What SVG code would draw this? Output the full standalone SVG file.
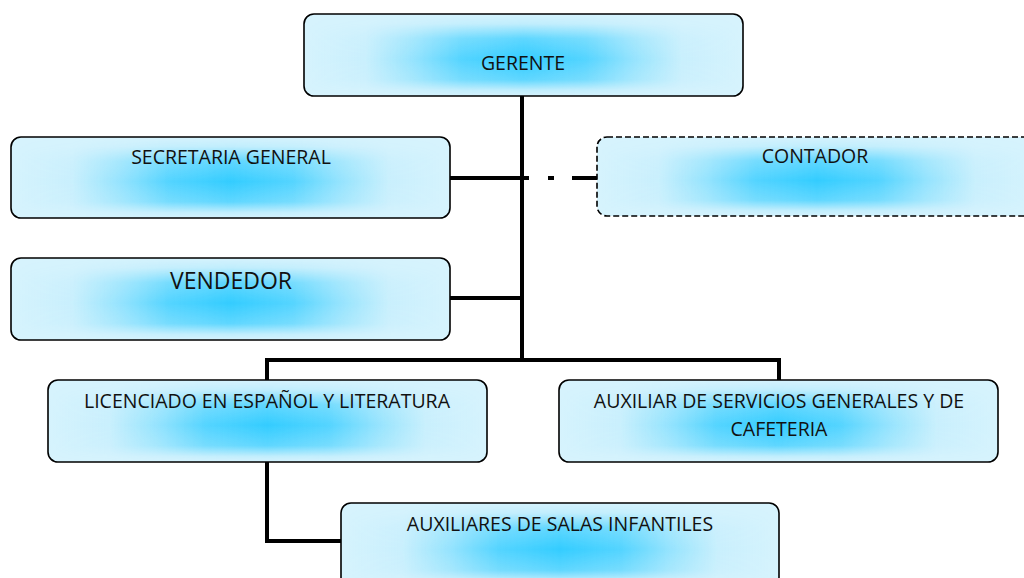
<svg xmlns="http://www.w3.org/2000/svg" width="1024" height="578" viewBox="0 0 1024 578">
<defs>
<linearGradient id="hg" x1="0" y1="0" x2="1" y2="0">
<stop offset="0" stop-color="#33CCFF" stop-opacity="0"/>
<stop offset="0.14" stop-color="#33CCFF" stop-opacity="0.08"/>
<stop offset="0.25" stop-color="#33CCFF" stop-opacity="0.4"/>
<stop offset="0.36" stop-color="#33CCFF" stop-opacity="0.8"/>
<stop offset="0.5" stop-color="#33CCFF" stop-opacity="1"/>
<stop offset="0.64" stop-color="#33CCFF" stop-opacity="0.8"/>
<stop offset="0.75" stop-color="#33CCFF" stop-opacity="0.4"/>
<stop offset="0.86" stop-color="#33CCFF" stop-opacity="0.08"/>
<stop offset="1" stop-color="#33CCFF" stop-opacity="0"/>
</linearGradient>
<linearGradient id="vg" x1="0" y1="0" x2="0" y2="1">
<stop offset="0" stop-color="#000"/>
<stop offset="0.12" stop-color="#222"/>
<stop offset="0.3" stop-color="#bbb"/>
<stop offset="0.55" stop-color="#fff"/>
<stop offset="0.8" stop-color="#bbb"/>
<stop offset="0.93" stop-color="#222"/>
<stop offset="1" stop-color="#000"/>
</linearGradient>
<mask id="m" maskContentUnits="objectBoundingBox">
<rect x="0" y="0" width="1" height="1" fill="url(#vg)"/>
</mask>
<style>
.base{fill:#D6F3FD}
.glow{fill:url(#hg)}
.edge{fill:none;stroke:#000;stroke-width:1.6}
.dash{stroke-dasharray:6 3}
.t{font-family:"Open Sans","Liberation Sans",sans-serif;font-size:19.5px;fill:#111;text-anchor:middle}
.big{font-size:23px}
.c{fill:none;stroke:#000;stroke-width:4}
</style>
</defs>
<g id="connectors">
<line class="c" x1="522" y1="96" x2="522" y2="361"/>
<line class="c" x1="450" y1="178" x2="524" y2="178"/>
<line class="c" x1="450" y1="298" x2="524" y2="298"/>
<path class="c" d="M524 178 H529 M548 178 H554 M572 178 H597"/>
<path class="c" d="M267 380 V360 H779 V380"/>
<path class="c" d="M267 462 V541 H341"/>
</g>
<g id="gerente">
<rect class="base" x="304" y="14" width="439" height="82" rx="10"/>
<rect class="glow" x="304" y="14" width="439" height="82" rx="10" mask="url(#m)"/>
<rect class="edge" x="304" y="14" width="439" height="82" rx="10"/>
<text class="t" x="523" y="70">GERENTE</text>
</g>
<g id="secretaria">
<rect class="base" x="11" y="137" width="439" height="81" rx="10"/>
<rect class="glow" x="11" y="137" width="439" height="81" rx="10" mask="url(#m)"/>
<rect class="edge" x="11" y="137" width="439" height="81" rx="10"/>
<text class="t" x="231" y="164">SECRETARIA GENERAL</text>
</g>
<g id="contador">
<rect class="base" x="597" y="137" width="440" height="79" rx="10"/>
<rect class="glow" x="597" y="137" width="440" height="79" rx="10" mask="url(#m)"/>
<rect class="edge dash" x="597" y="137" width="440" height="79" rx="10"/>
<text class="t" x="815" y="163">CONTADOR</text>
</g>
<g id="vendedor">
<rect class="base" x="11" y="258" width="439" height="82" rx="10"/>
<rect class="glow" x="11" y="258" width="439" height="82" rx="10" mask="url(#m)"/>
<rect class="edge" x="11" y="258" width="439" height="82" rx="10"/>
<text class="t big" x="231" y="289">VENDEDOR</text>
</g>
<g id="licenciado">
<rect class="base" x="48" y="380" width="439" height="82" rx="10"/>
<rect class="glow" x="48" y="380" width="439" height="82" rx="10" mask="url(#m)"/>
<rect class="edge" x="48" y="380" width="439" height="82" rx="10"/>
<text class="t" x="267" y="408">LICENCIADO EN ESPAÑOL Y LITERATURA</text>
</g>
<g id="auxiliar">
<rect class="base" x="559" y="380" width="439" height="82" rx="10"/>
<rect class="glow" x="559" y="380" width="439" height="82" rx="10" mask="url(#m)"/>
<rect class="edge" x="559" y="380" width="439" height="82" rx="10"/>
<text class="t" x="779" y="408">AUXILIAR DE SERVICIOS GENERALES Y DE</text>
<text class="t" x="779" y="436">CAFETERIA</text>
</g>
<g id="auxiliares">
<rect class="base" x="341" y="503" width="438" height="84" rx="10"/>
<rect class="glow" x="341" y="503" width="438" height="84" rx="10" mask="url(#m)"/>
<rect class="edge" x="341" y="503" width="438" height="84" rx="10"/>
<text class="t" x="560" y="531">AUXILIARES DE SALAS INFANTILES</text>
</g>
</svg>
